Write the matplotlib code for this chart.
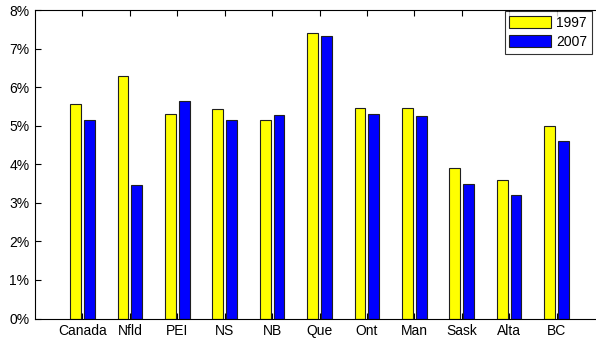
import numpy as np
import matplotlib.pyplot as plt
from matplotlib.ticker import FuncFormatter

plt.rcParams['font.family'] = ['Liberation Sans', 'DejaVu Sans']

provinces = ["Canada", "Nfld", "PEI", "NS", "NB", "Que", "Ont", "Man", "Sask", "Alta", "BC"]
rate_1997 = [5.55, 6.29, 5.31, 5.42, 5.14, 7.40, 5.47, 5.45, 3.91, 3.59, 4.98]
rate_2007 = [5.14, 3.45, 5.63, 5.14, 5.28, 7.32, 5.31, 5.25, 3.49, 3.21, 4.60]

fig = plt.figure(figsize=(5.96, 3.39), dpi=100)
# axes runs off the right edge of the figure
ax = fig.add_axes([35 / 596, 20.5 / 339, 569 / 596, 308.5 / 339])

x = np.arange(1, len(provinces) + 1)
w = 0.23
off = 0.145
ax.bar(x - off, rate_1997, w, color='#ffff00', edgecolor='#202020', linewidth=0.8, label='1997')
ax.bar(x + off, rate_2007, w, color='#0000ff', edgecolor='#202020', linewidth=0.8, label='2007')

ax.set_xlim(0, 12)
ax.set_ylim(0, 8)
ax.set_xticks(x)
ax.set_xticklabels(provinces)
ax.set_yticks(range(0, 9))
ax.yaxis.set_major_formatter(FuncFormatter(lambda v, p: f"{int(v)}%"))
ax.tick_params(direction='in', length=4, width=0.8, labelsize=10, top=True, right=False, pad=4)
for s in ax.spines.values():
    s.set_linewidth(0.8)
ax.spines['right'].set_visible(False)

leg = ax.legend(loc='upper right', bbox_to_anchor=(592 / 596, 1 - 11 / 339),
                bbox_transform=fig.transFigure, fontsize=10, frameon=True, fancybox=False,
                handlelength=3.0, handleheight=1.0, labelspacing=0.35,
                borderpad=0.35, handletextpad=0.35, borderaxespad=0)
leg.get_frame().set_edgecolor('black')
leg.get_frame().set_linewidth(0.8)

fig.savefig('out.png', dpi=100)
